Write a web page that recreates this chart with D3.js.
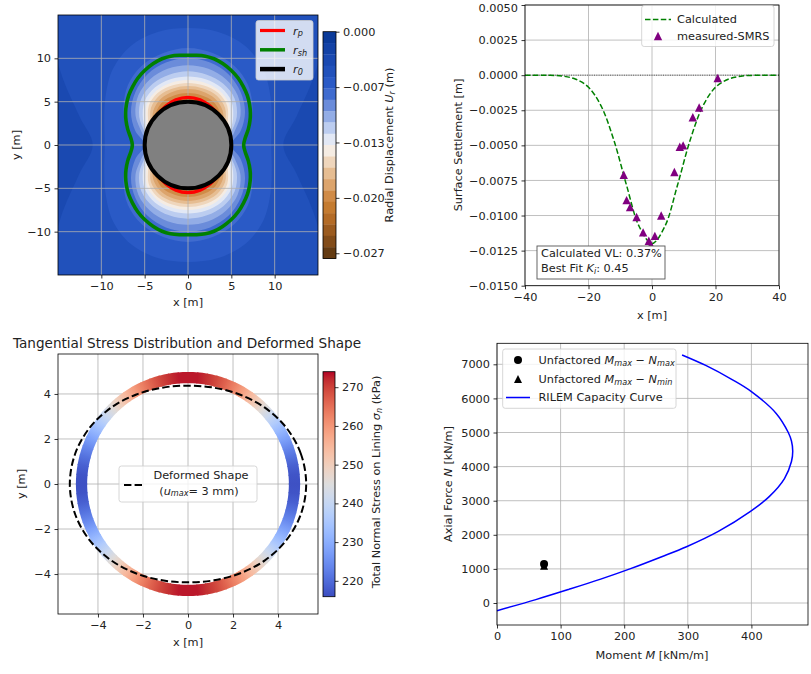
<!DOCTYPE html>
<html>
<head>
<meta charset="utf-8">
<script src="https://cdn.jsdelivr.net/npm/d3@7"></script>
<style>
  body { margin: 0; background: #fff; }
  svg { font-family: "DejaVu Sans", sans-serif; }
</style>
</head>
<body>
<svg id="fig" width="811" height="674"></svg>
<script>
// ---------- Panel A: radial displacement field around the opening ----------
const dispDomain = [-0.0273, 0];
const dispBandCount = 20;
const dispTicks = [0, -0.00667, -0.01333, -0.02, -0.02667];
const axisTicksA = [-10, -5, 0, 5, 10];
// rays (deg from +x) along which contour radii were taken; mirrored to all quadrants
const rayAngles = [0, 15, 30, 45, 60, 75, 90];
// index of the band boundary each contour marks (band k spans k..k+1 steps below 0)
const contourIndex = [3, 4, 5, 6, 7, 8, 9, 10, 11, 12, 13, 14, 15, 16];
// contour radius [m] along each ray
const contourRadii = [
  [11.0, 13.0, 17.0, 23.0, 24.0, 24.0, 24.0],
  [9.6, 10.0, 11.0, 12.3, 13.2, 13.5, 13.5],
  [6.5, 7.4, 8.6, 9.8, 10.6, 11.0, 11.2],
  [5.0, 6.3, 7.6, 8.6, 9.4, 9.85, 10.0],
  [4.6, 5.5, 7.0, 8.1, 8.75, 9.1, 9.2],
  [4.4, 5.1, 6.5, 7.6, 8.15, 8.4, 8.5],
  [4.2, 4.9, 6.0, 7.1, 7.65, 7.85, 7.9],
  [4.0, 4.7, 5.6, 6.7, 7.25, 7.45, 7.5],
  [3.9, 4.6, 5.3, 6.4, 6.95, 7.1, 7.15],
  [3.8, 4.5, 5.0, 6.05, 6.6, 6.75, 6.8],
  [3.7, 4.3, 4.75, 5.65, 6.2, 6.4, 6.45],
  [3.6, 4.2, 4.5, 5.25, 5.8, 5.95, 6.0],
  [3.5, 4.0, 4.3, 4.8, 5.35, 5.55, 5.6],
  [3.4, 3.8, 4.1, 4.5, 4.9, 5.15, 5.2]
];
// shear-zone boundary r_sh, first quadrant (x, y) [m]
const shearX = [6.42, 6.6, 6.95, 7.15, 7.2, 7.1, 6.85, 6.4, 5.8, 5.0, 4.0, 3.0, 2.0, 1.0, 0];
const shearY = [0, 0.8, 1.8, 2.8, 3.7, 4.7, 5.7, 6.7, 7.7, 8.6, 9.4, 9.95, 10.25, 10.35, 10.35];
// plastic radius r_p along the rays [m]
const plasticR = [4.8, 4.82, 4.86, 4.95, 5.15, 5.4, 5.5];
const tunnelR = 5.0;

// ---------- Panel B: surface settlement trough ----------
const settleX = [-40, -36, -32, -28, -24, -20, -16, -12, -8, -4, 0, 4, 8, 12, 16, 20, 24, 28, 32, 36, 40];
const settleCalc = [0, -0.000004, -0.00001, -0.00007, -0.00029, -0.00086, -0.00221, -0.00464, -0.00786, -0.0108,
  -0.0120, -0.0108, -0.00786, -0.00464, -0.00221, -0.00086, -0.00029, -0.00007, -0.00001, -0.000004, 0];
const measX = [-8.9, -8.0, -6.9, -4.85, -2.8, -1.0, -0.35, 0.9, 2.9, 7.05, 8.75, 9.8, 12.85, 14.85, 20.7];
const measY = [-0.0071, -0.0089, -0.0094, -0.0101, -0.0112, -0.0118, -0.0121, -0.01145, -0.0100, -0.0069,
  -0.0051, -0.0050, -0.0030, -0.0023, -0.0002];
const settleXTicks = [-40, -20, 0, 20, 40];
const settleYTicks = [0.005, 0.0025, 0, -0.0025, -0.005, -0.0075, -0.01, -0.0125, -0.015];

// ---------- Panel C: normal stress on the lining ----------
const ringAngles = d3.range(0, 91, 5); // first quadrant, mirrored
const ringStress = [216.5, 217, 218.5, 221, 224, 228, 232, 236.5, 241, 245.5, 250, 254.5, 259, 263, 266.5, 269.5, 271.5, 273, 273.5];
const stressDomain = [215.9, 274.0];
const stressTicks = [220, 230, 240, 250, 260, 270];
const deformAngles = [0, 15, 30, 45, 60, 75, 90];
const deformR = [5.25, 5.19, 5.03, 4.81, 4.59, 4.43, 4.37];
const ringInner = 4.48, ringOuter = 4.98;
const axisTicksC = [-4, -2, 0, 2, 4];

// ---------- Panel D: M-N interaction ----------
const capM = [0, 61, 113, 163, 209, 258, 298, 348, 398, 428, 452, 463, 465, 463, 458, 439, 400, 369, 329, 291];
const capN = [-225, 100, 400, 700, 1000, 1350, 1650, 2100, 2680, 3120, 3650, 4150, 4450, 4750, 5000, 5560, 6200, 6560, 6960, 7274];
const demandMaxN = { M: 74, N: 1144 };
const demandMinN = { M: 74, N: 1095 };
const momentTicks = [0, 100, 200, 300, 400];
const axialTicks = [0, 1000, 2000, 3000, 4000, 5000, 6000, 7000];

// colour maps
const dispColors = ["#0b3a99", "#1342a6", "#1a49b1", "#2151bb", "#2a5ac6", "#3f6bcf", "#6b8cda", "#93ade6",
  "#bccdf0", "#e2e8f5", "#f5ece3", "#efd6bc", "#e6bd92", "#dca46c", "#d08b47", "#c47b30", "#b36b26",
  "#9b5b1f", "#824c19", "#643b12"];
const coolwarmStops = [[59,76,192],[68,90,204],[77,104,215],[87,117,225],[98,130,234],[108,142,241],[119,154,247],
  [130,165,251],[141,176,254],[152,185,255],[163,194,255],[174,201,253],[184,208,249],[194,213,244],[204,217,238],
  [213,219,230],[221,221,221],[229,216,209],[236,211,197],[241,204,184],[245,196,172],[247,187,160],[247,177,148],
  [247,166,135],[244,154,123],[241,141,111],[236,127,99],[229,112,88],[222,96,77],[213,80,66],[203,62,56],
  [192,40,47],[180,4,38]].map(c => `rgb(${c[0]},${c[1]},${c[2]})`);
const coolwarm = d3.piecewise(d3.interpolateRgb, coolwarmStops);

const svg = d3.select("#fig");
const defs = svg.append("defs");
const FS = 11.3;
const TXT = "#222";

// ---------- helpers ----------
function rich(sel, parts, fs) {
  let shift = 0;
  parts.forEach(p => {
    const t = sel.append("tspan").text(p.t);
    if (p.i) t.attr("font-style", "italic");
    const target = p.sub ? fs * 0.24 : 0;
    if (target !== shift) { t.attr("dy", target - shift); shift = target; }
    if (p.sub) t.attr("font-size", fs * 0.72);
  });
  return sel;
}
function label(g, x, y, parts, opts = {}) {
  const fs = opts.fs || FS;
  const t = g.append("text").attr("x", x).attr("y", y).attr("fill", TXT)
    .attr("font-size", fs).attr("text-anchor", opts.anchor || "middle")
    .attr("dominant-baseline", "central");
  if (opts.rotate) t.attr("transform", `rotate(-90,${x},${y})`);
  if (typeof parts === "string") t.text(parts); else rich(t, parts, fs);
  return t;
}
function styleAxis(g) {
  g.attr("font-family", null).attr("font-size", null);
  g.select(".domain").remove();
  g.selectAll(".tick line").attr("stroke", "#000").attr("stroke-width", 0.8);
  g.selectAll(".tick text").attr("fill", TXT).attr("font-size", FS);
}
function grid(g, x, y, xt, yt) {
  const [y0, y1] = y.range(), [x0, x1] = x.range();
  g.append("g").selectAll("line").data(xt).join("line")
    .attr("x1", d => x(d)).attr("x2", d => x(d)).attr("y1", y0).attr("y2", y1)
    .attr("stroke", "#b0b0b0").attr("stroke-width", 0.8);
  g.append("g").selectAll("line").data(yt).join("line")
    .attr("y1", d => y(d)).attr("y2", d => y(d)).attr("x1", x0).attr("x2", x1)
    .attr("stroke", "#b0b0b0").attr("stroke-width", 0.8);
}
function axes(g, x, y, xt, yt, fx, fy) {
  const [y0] = y.range(), [x0] = x.range();
  const ax = g.append("g").attr("transform", `translate(0,${y0})`)
    .call(d3.axisBottom(x).tickValues(xt).tickFormat(fx).tickSize(3.5).tickPadding(3.5));
  styleAxis(ax);
  const ay = g.append("g").attr("transform", `translate(${x0},0)`)
    .call(d3.axisLeft(y).tickValues(yt).tickFormat(fy).tickSize(3.5).tickPadding(3.5));
  styleAxis(ay);
  const [xa, xb] = x.range(), [ya, yb] = y.range();
  g.append("rect").attr("x", xa).attr("y", yb).attr("width", xb - xa).attr("height", ya - yb)
    .attr("fill", "none").attr("stroke", "#000").attr("stroke-width", 0.8);
  return ay;
}
function mirrorPolar(angles, radii) {
  const pts = [], n = angles.length;
  const add = (deg, r) => { const t = deg * Math.PI / 180; pts.push([r * Math.cos(t), r * Math.sin(t)]); };
  for (let i = 0; i < n; i++) add(angles[i], radii[i]);
  for (let i = n - 2; i >= 0; i--) add(180 - angles[i], radii[i]);
  for (let i = 1; i < n; i++) add(180 + angles[i], radii[i]);
  for (let i = n - 2; i >= 1; i--) add(360 - angles[i], radii[i]);
  return pts;
}
function mirrorXY(xs, ys) {
  const n = xs.length, pts = [];
  for (let i = 0; i < n; i++) pts.push([xs[i], ys[i]]);
  for (let i = n - 2; i >= 0; i--) pts.push([-xs[i], ys[i]]);
  for (let i = 1; i < n; i++) pts.push([-xs[i], -ys[i]]);
  for (let i = n - 2; i >= 1; i--) pts.push([xs[i], -ys[i]]);
  return pts;
}
function legendBox(g, x, y, w, h) {
  g.append("rect").attr("x", x).attr("y", y).attr("width", w).attr("height", h).attr("rx", 2.5)
    .attr("fill", "rgba(255,255,255,0.8)").attr("stroke", "#cccccc").attr("stroke-width", 0.8);
}
const triPath = s => `M0,${-s}L${s},${s}L${-s},${s}Z`;

// ================= Panel A =================
{
  const g = svg.append("g");
  const x = d3.scaleLinear([-15, 15], [58, 318]);
  const y = d3.scaleLinear([-15, 15], [275, 15]);
  defs.append("clipPath").attr("id", "clipA").append("rect")
    .attr("x", 58).attr("y", 15).attr("width", 260).attr("height", 260);
  const field = g.append("g").attr("clip-path", "url(#clipA)");
  field.append("rect").attr("x", 58).attr("y", 15).attr("width", 260).attr("height", 260)
    .attr("fill", dispColors[2]);
  const closed = d3.line().x(d => x(d[0])).y(d => y(d[1])).curve(d3.curveCatmullRomClosed.alpha(0.5));
  contourIndex.forEach((k, i) => {
    field.append("path").attr("d", closed(mirrorPolar(rayAngles, contourRadii[i])))
      .attr("fill", dispColors[k]);
  });
  grid(field, x, y, axisTicksA, axisTicksA);
  field.append("path").attr("d", closed(mirrorPolar(rayAngles, plasticR)))
    .attr("fill", "none").attr("stroke", "#ff0000").attr("stroke-width", 3.2);
  field.append("path").attr("d", closed(mirrorXY(shearX, shearY)))
    .attr("fill", "none").attr("stroke", "#008000").attr("stroke-width", 3.6)
    .attr("stroke-linejoin", "round");
  field.append("circle").attr("cx", x(0)).attr("cy", y(0)).attr("r", x(tunnelR) - x(0))
    .attr("fill", "#808080").attr("stroke", "#000").attr("stroke-width", 4);
  axes(g, x, y, axisTicksA, axisTicksA, d3.format("d"), d3.format("d"));
  label(g, 188, 302, "x [m]");
  label(g, 16, 145, "y [m]", { rotate: true });

  // legend
  legendBox(g, 256, 20.5, 57, 59.5);
  const leg = [["#ff0000", 3.2, "p"], ["#008000", 3.5, "sh"], ["#000", 4.5, "0"]];
  leg.forEach((d, i) => {
    const yy = 30.5 + i * 19.3;
    g.append("line").attr("x1", 260).attr("x2", 285).attr("y1", yy).attr("y2", yy)
      .attr("stroke", d[0]).attr("stroke-width", d[1]);
    label(g, 293, yy, [{ t: "r", i: true }, { t: d[2], i: true, sub: true }], { anchor: "start" });
  });

  // colour bar
  const c = d3.scaleLinear(dispDomain, [258.5, 31.7]);
  const step = (dispDomain[1] - dispDomain[0]) / dispBandCount;
  const cb = g.append("g");
  d3.range(dispBandCount).forEach(k => {
    const v0 = -k * step, v1 = -(k + 1) * step;
    cb.append("rect").attr("x", 323).attr("width", 13).attr("y", c(v0)).attr("height", c(v1) - c(v0) + 0.3)
      .attr("fill", dispColors[k]);
  });
  cb.append("rect").attr("x", 323).attr("y", 31.7).attr("width", 13).attr("height", 258.5 - 31.7)
    .attr("fill", "none").attr("stroke", "#000").attr("stroke-width", 0.8);
  const ca = cb.append("g").attr("transform", "translate(336,0)")
    .call(d3.axisRight(c).tickValues(dispTicks).tickFormat(d3.format(".3f")).tickSize(3.5).tickPadding(3.5));
  styleAxis(ca);
  label(g, 389, 145, [{ t: "Radial Displacement " }, { t: "U", i: true }, { t: "r", i: true, sub: true }, { t: " (m)" }], { rotate: true });
}

// ================= Panel B =================
{
  const g = svg.append("g");
  const x = d3.scaleLinear([-40, 40], [525, 779]);
  const y = d3.scaleLinear([-0.015, 0.005], [285.7, 5]);
  grid(g, x, y, settleXTicks, settleYTicks);
  g.append("line").attr("x1", 525).attr("x2", 779).attr("y1", y(0)).attr("y2", y(0))
    .attr("stroke", "#333").attr("stroke-width", 0.8).attr("stroke-dasharray", "1,1.3");
  const line = d3.line().x((d, i) => x(settleX[i])).y(d => y(d)).curve(d3.curveCatmullRom.alpha(0.5));
  g.append("path").attr("d", line(settleCalc)).attr("fill", "none").attr("stroke", "#008000")
    .attr("stroke-width", 1.5).attr("stroke-dasharray", "5.5,2.4");
  g.append("g").selectAll("path").data(measX).join("path")
    .attr("d", triPath(4.2)).attr("transform", (d, i) => `translate(${x(d)},${y(measY[i])})`)
    .attr("fill", "#800080");
  const ay = axes(g, x, y, settleXTicks, settleYTicks, d3.format("d"), d3.format(".4f"));
  // keep the top tick label inside the page
  ay.selectAll(".tick text").filter(d => d === 0.005).attr("dy", "0.55em");
  label(g, 652, 315, "x [m]");
  label(g, 458, 145, "Surface Settlement [m]", { rotate: true });

  legendBox(g, 641.7, 5.5, 132.3, 41);
  g.append("line").attr("x1", 645).attr("x2", 671).attr("y1", 19.5).attr("y2", 19.5)
    .attr("stroke", "#008000").attr("stroke-width", 1.5).attr("stroke-dasharray", "5.5,2.4");
  label(g, 677, 19.5, "Calculated", { anchor: "start" });
  g.append("path").attr("d", triPath(4.2)).attr("transform", "translate(658,36)").attr("fill", "#800080");
  label(g, 677, 36, "measured-SMRS", { anchor: "start" });

  g.append("rect").attr("x", 537).attr("y", 246).attr("width", 128).attr("height", 33)
    .attr("fill", "#fff").attr("stroke", "#555").attr("stroke-width", 0.9);
  label(g, 541, 253.5, "Calculated VL: 0.37%", { anchor: "start" });
  label(g, 541, 268, [{ t: "Best Fit " }, { t: "K", i: true }, { t: "i", i: true, sub: true }, { t: ": 0.45" }], { anchor: "start" });
}

// ================= Panel C =================
{
  const g = svg.append("g");
  const lim = 5.775;
  const x = d3.scaleLinear([-lim, lim], [58, 318]);
  const y = d3.scaleLinear([-lim, lim], [614, 354]);
  grid(g, x, y, axisTicksC, axisTicksC);
  const cnorm = v => coolwarm((v - stressDomain[0]) / (stressDomain[1] - stressDomain[0]));

  // full-circle stress table from the first-quadrant readings
  const angs = [], vals = [];
  for (let q = 0; q < 4; q++) {
    ringAngles.forEach((a, i) => {
      if (i === ringAngles.length - 1) return;
      const deg = q === 0 ? a : q === 1 ? 180 - a : q === 2 ? 180 + a : 360 - a;
      angs.push(deg); vals.push(ringStress[i]);
    });
  }
  const order = d3.range(angs.length).sort((a, b) => angs[a] - angs[b]);
  const A = order.map(i => angs[i]), V = order.map(i => vals[i]);
  const P = (r, deg) => { const t = deg * Math.PI / 180; return [x(r * Math.cos(t)), y(r * Math.sin(t))]; };
  const rm = (ringInner + ringOuter) / 2;
  A.forEach((a0, i) => {
    const a1 = i === A.length - 1 ? 360 : A[i + 1];
    const v0 = V[i], v1 = V[(i + 1) % V.length];
    const id = "rg" + i;
    const p0 = P(rm, a0), p1 = P(rm, a1);
    const gr = defs.append("linearGradient").attr("id", id).attr("gradientUnits", "userSpaceOnUse")
      .attr("x1", p0[0]).attr("y1", p0[1]).attr("x2", p1[0]).attr("y2", p1[1]);
    gr.append("stop").attr("offset", 0).attr("stop-color", cnorm(v0));
    gr.append("stop").attr("offset", 1).attr("stop-color", cnorm(v1));
    const pts = [];
    const nSub = 4;
    for (let s = 0; s <= nSub; s++) pts.push(P(ringOuter, a0 - 0.3 + (a1 - a0 + 0.6) * s / nSub));
    for (let s = nSub; s >= 0; s--) pts.push(P(ringInner, a0 - 0.3 + (a1 - a0 + 0.6) * s / nSub));
    g.append("path").attr("d", "M" + pts.map(p => p.join(",")).join("L") + "Z")
      .attr("fill", `url(#${id})`);
  });

  const closed = d3.line().x(d => x(d[0])).y(d => y(d[1])).curve(d3.curveCatmullRomClosed.alpha(0.5));
  g.append("path").attr("d", closed(mirrorPolar(deformAngles, deformR)))
    .attr("fill", "none").attr("stroke", "#000").attr("stroke-width", 2).attr("stroke-dasharray", "7.4,3.2");
  axes(g, x, y, axisTicksC, axisTicksC, d3.format("d"), d3.format("d"));
  label(g, 188, 642, "x [m]");
  label(g, 21, 484, "y [m]", { rotate: true });
  label(g, 187, 343, "Tangential Stress Distribution and Deformed Shape", { fs: 13.6 });

  legendBox(g, 119, 466, 138, 36);
  g.append("line").attr("x1", 124).attr("x2", 145).attr("y1", 485).attr("y2", 485)
    .attr("stroke", "#000").attr("stroke-width", 2).attr("stroke-dasharray", "7.4,3.2");
  label(g, 201, 475.5, "Deformed Shape");
  label(g, 199, 490.5, [{ t: "(" }, { t: "u", i: true }, { t: "max", i: true, sub: true }, { t: "= 3 mm)" }]);

  // colour bar
  const c = d3.scaleLinear(stressDomain, [596.7, 371.7]);
  const gid = "cbC";
  const lg = defs.append("linearGradient").attr("id", gid).attr("x1", 0).attr("y1", 1).attr("x2", 0).attr("y2", 0);
  coolwarmStops.forEach((col, i) => lg.append("stop").attr("offset", i / (coolwarmStops.length - 1)).attr("stop-color", col));
  g.append("rect").attr("x", 323).attr("y", 371.7).attr("width", 12).attr("height", 225)
    .attr("fill", `url(#${gid})`).attr("stroke", "#000").attr("stroke-width", 0.8);
  const ca = g.append("g").attr("transform", "translate(335,0)")
    .call(d3.axisRight(c).tickValues(stressTicks).tickFormat(d3.format("d")).tickSize(3.5).tickPadding(3.5));
  styleAxis(ca);
  label(g, 376, 482, [{ t: "Total Normal Stress on Lining " }, { t: "σ", i: true }, { t: "n", i: true, sub: true }, { t: " (kPa)" }], { rotate: true });
}

// ================= Panel D =================
{
  const g = svg.append("g");
  const x = d3.scaleLinear([0, 489], [497, 808]);
  const y = d3.scaleLinear([-645, 7616], [625, 343.3]);
  grid(g, x, y, momentTicks, axialTicks);
  const line = d3.line().x((d, i) => x(capM[i])).y(d => y(d)).curve(d3.curveCatmullRom.alpha(0.5));
  g.append("path").attr("d", line(capN)).attr("fill", "none").attr("stroke", "#0000ff").attr("stroke-width", 1.5);
  g.append("circle").attr("cx", x(demandMaxN.M)).attr("cy", y(demandMaxN.N)).attr("r", 4).attr("fill", "#000");
  g.append("path").attr("d", triPath(4)).attr("transform", `translate(${x(demandMinN.M)},${y(demandMinN.N)})`).attr("fill", "#000");
  axes(g, x, y, momentTicks, axialTicks, d3.format("d"), d3.format("d"));
  label(g, 652, 655, [{ t: "Moment " }, { t: "M", i: true }, { t: " [kNm/m]" }]);
  label(g, 448, 484, [{ t: "Axial Force " }, { t: "N", i: true }, { t: " [kN/m]" }], { rotate: true });

  legendBox(g, 502.7, 349, 173.3, 59.3);
  g.append("circle").attr("cx", 518).attr("cy", 360).attr("r", 4).attr("fill", "#000");
  label(g, 538.5, 360, [{ t: "Unfactored " }, { t: "M", i: true }, { t: "max", i: true, sub: true }, { t: " − " }, { t: "N", i: true }, { t: "max", i: true, sub: true }], { anchor: "start" });
  g.append("path").attr("d", triPath(4)).attr("transform", "translate(518,379)").attr("fill", "#000");
  label(g, 538.5, 379, [{ t: "Unfactored " }, { t: "M", i: true }, { t: "max", i: true, sub: true }, { t: " − " }, { t: "N", i: true }, { t: "min", i: true, sub: true }], { anchor: "start" });
  g.append("line").attr("x1", 506).attr("x2", 530).attr("y1", 397.5).attr("y2", 397.5).attr("stroke", "#0000ff").attr("stroke-width", 1.5);
  label(g, 538.5, 397.5, "RILEM Capacity Curve", { anchor: "start" });
}
</script>
</body>
</html>
